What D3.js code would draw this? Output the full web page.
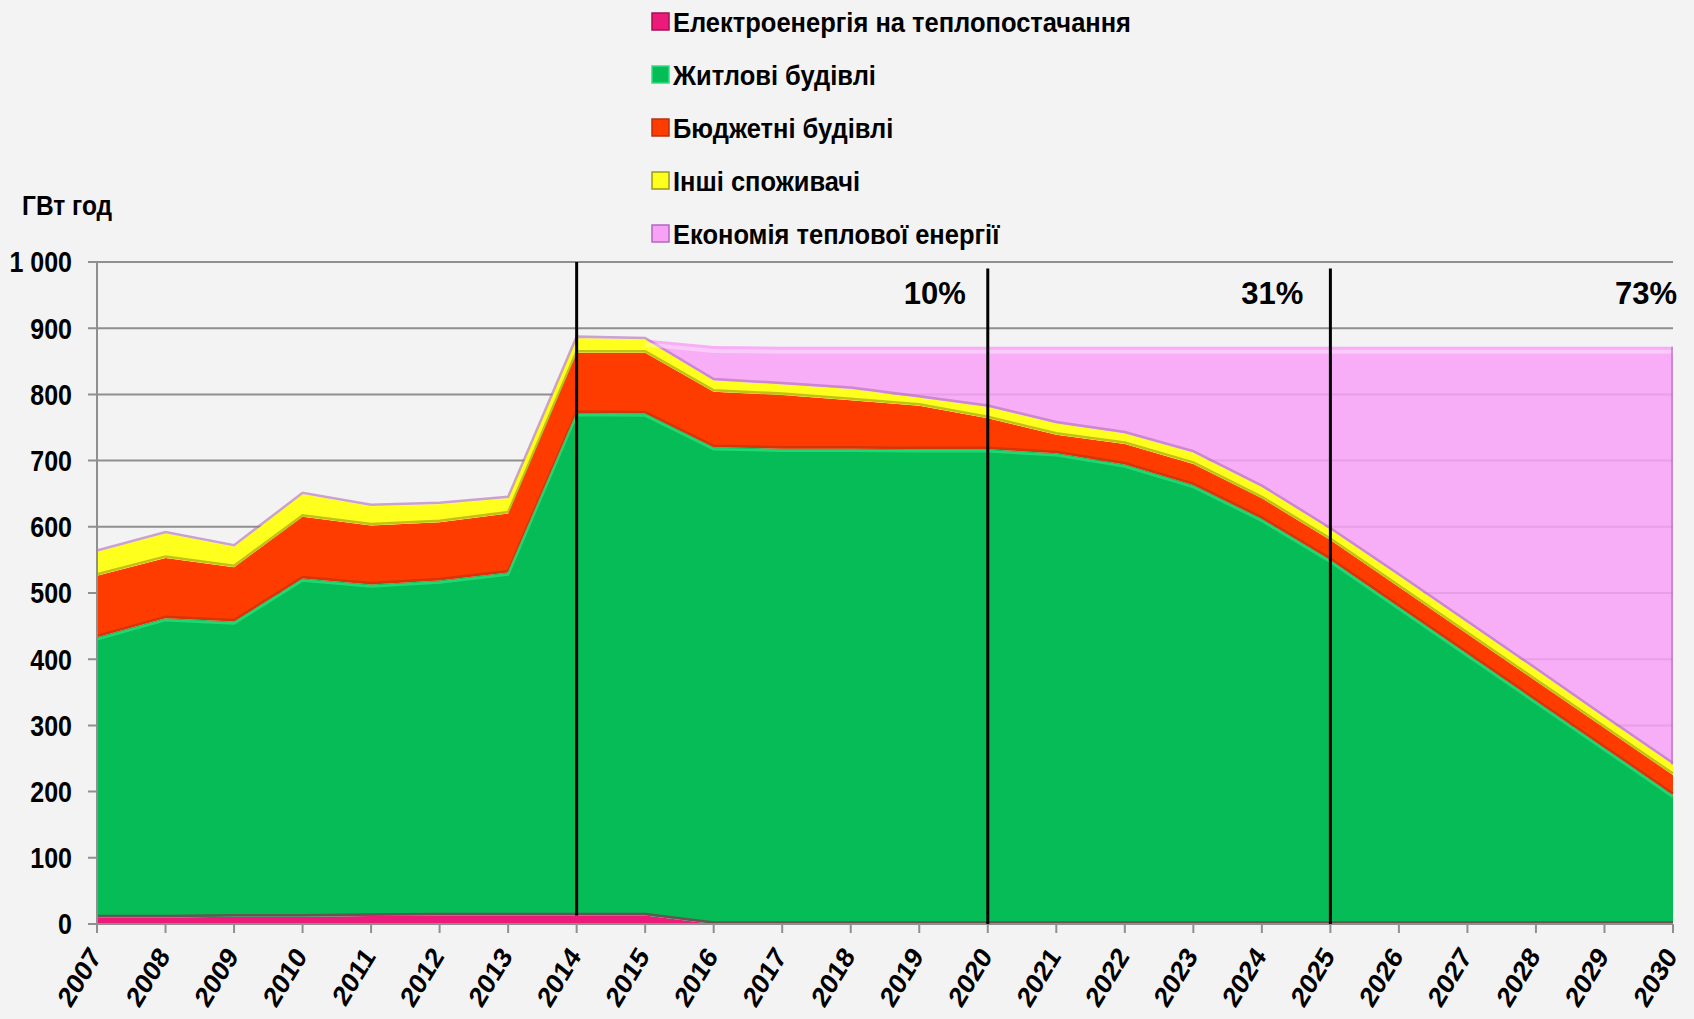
<!DOCTYPE html>
<html>
<head>
<meta charset="utf-8">
<script src="https://cdn.jsdelivr.net/npm/d3@7"></script>
<style>
  html, body { margin: 0; padding: 0; background: #f3f3f3; }
  svg { display: block; font-family: "Liberation Sans", Arial, sans-serif; }
</style>
</head>
<body>
<svg id="chart" width="1694" height="1019"></svg>
<script>
// --- Data (GWh per year) ---
const years = [2007, 2008, 2009, 2010, 2011, 2012, 2013, 2014, 2015, 2016, 2017, 2018,
               2019, 2020, 2021, 2022, 2023, 2024, 2025, 2026, 2027, 2028, 2029, 2030];
const electricity = [10, 10, 11, 11, 12, 13, 13, 13, 13, 0, 0, 0, 0, 0, 0, 0, 0, 0, 0, 0, 0, 0, 0, 0];
const residential = [423, 452, 446, 511, 501, 506, 518, 759, 758, 720, 718, 718,
                     717, 717, 711, 694, 663, 612, 550, 479, 408, 337, 266, 195];
const budget      = [93, 91, 82, 93, 89, 88, 89, 91, 92, 84, 81, 73,
                     66, 47, 28, 31, 32, 31, 30, 30, 30, 30, 30, 30];
const others      = [36, 37, 31, 34, 29, 27, 23, 22, 20, 17, 16, 17,
                     12, 17, 17, 16, 17, 17, 16, 17, 17, 17, 16, 16];
const savings     = [0, 0, 0, 0, 0, 0, 0, 0, 0, 52, 57, 64,
                     77, 91, 116, 131, 160, 212, 276, 346, 417, 488, 560, 631];

const seriesNames = ['Електроенергія на теплопостачання', 'Житлові будівлі', 'Бюджетні будівлі',
                     'Інші споживачі', 'Економія теплової енергії'];
const yTicks = [0, 100, 200, 300, 400, 500, 600, 700, 800, 900, 1000];
const markerYears = [2014, 2020, 2025];
const shareLabels = [{ year: 2020, text: '10%' }, { year: 2025, text: '31%' }, { year: 2030, text: '73%' }];
const unitLabel = 'ГВт год';

// --- Styling ---
const COLORS = ['#ec1a78', '#05bc56', '#ff3c00', '#ffff1e', '#f7a2f7'];
const EDGES  = ['#a80f52', '#2ee27f', '#b83210', '#9a9a10', '#b06ab8'];
const SY = 1.15;   // source picture is vertically stretched; text follows it
const W = 1694, H = 1019;
const M = { left: 97, right: 21, top: 262, bottom: 95 };

const svg = d3.select('#chart');

const x = d3.scaleLinear()
    .domain([years[0], years[years.length - 1]])
    .range([M.left, W - M.right]);
const y = d3.scaleLinear()
    .domain([0, 1000])
    .range([H - M.bottom, M.top]);

// stacked table
const keys = ['el', 'res', 'bud', 'oth', 'sav'];
const table = years.map((yr, i) => ({
    year: yr, el: electricity[i], res: residential[i], bud: budget[i], oth: others[i], sav: savings[i]
}));
const stacked = d3.stack().keys(keys)(table);

// helper for stretched text
function sText(g, tx, ty, str, opts = {}) {
    const sy = opts.sy || SY;
    return g.append('text')
        .attr('transform', `translate(${tx},${ty}) scale(1,${sy})` + (opts.rotate ? ` rotate(${opts.rotate})` : ''))
        .attr('text-anchor', opts.anchor || 'start')
        .attr('dy', opts.dy || '0.35em')
        .attr('font-size', opts.size || 24)
        .attr('font-weight', opts.weight || 'bold')
        .attr('fill', '#000')
        .text(str);
}

// --- Gridlines ---
const grid = svg.append('g');
grid.selectAll('line')
    .data(yTicks.filter(d => d > 0))
    .join('line')
    .attr('x1', M.left - 9).attr('x2', W - M.right)
    .attr('y1', d => y(d)).attr('y2', d => y(d))
    .attr('stroke', '#8f8f8f').attr('stroke-width', 2);

// --- Areas ---
const area = d3.area()
    .x(d => x(d.data.year))
    .y0(d => y(d[0]))
    .y1(d => y(d[1]));

const areasG = svg.append('g');
areasG.selectAll('path.layer')
    .data(stacked)
    .join('path')
    .attr('class', 'layer')
    .attr('d', area)
    .attr('fill', (d, i) => COLORS[i])
    .attr('fill-opacity', (d, i) => i === 4 ? 0.86 : 1);

// bevel-ish edges: dark seam just above each lower boundary, light seam for green top
const edgeLine = off => d3.line()
    .x(d => x(d.data.year))
    .y(d => y(d[0]) - off);
areasG.selectAll('path.edge')
    .data(stacked.slice(1))
    .join('path')
    .attr('class', 'edge')
    .attr('d', edgeLine(1.5))
    .attr('fill', 'none')
    .attr('stroke', (d, i) => EDGES[i + 1 === 1 ? 0 : i + 1])
    .attr('stroke-opacity', 0.6)
    .attr('stroke-width', 2.5);

const topLine = off => d3.line()
    .x(d => x(d.data.year))
    .y(d => y(d[1]) + off);
areasG.append('path')
    .attr('d', topLine(2)(stacked[1]))
    .attr('fill', 'none')
    .attr('stroke', EDGES[1])
    .attr('stroke-opacity', 0.7)
    .attr('stroke-width', 2.5);

// soft highlight under the savings top edge
const savTop = stacked[4].filter(d => d.data.year >= 2015);
areasG.append('path')
    .attr('d', topLine(5)(savTop))
    .attr('fill', 'none')
    .attr('stroke', '#ffffff')
    .attr('stroke-opacity', 0.35)
    .attr('stroke-width', 4);

// darker right rim of the savings block
const last = stacked[4][stacked[4].length - 1];
areasG.append('line')
    .attr('x1', x(last.data.year) - 1).attr('x2', x(last.data.year) - 1)
    .attr('y1', y(last[1])).attr('y2', y(last[0]))
    .attr('stroke', EDGES[4]).attr('stroke-opacity', 0.6).attr('stroke-width', 2);

// --- Axes ---
const axisG = svg.append('g');
axisG.append('line')
    .attr('x1', M.left).attr('x2', M.left)
    .attr('y1', y(1000)).attr('y2', y(0))
    .attr('stroke', '#8f8f8f').attr('stroke-width', 2);
axisG.append('line')
    .attr('x1', M.left - 9).attr('x2', W - M.right)
    .attr('y1', y(0)).attr('y2', y(0))
    .attr('stroke', '#8f8f8f').attr('stroke-width', 2);
axisG.selectAll('line.xt')
    .data(years)
    .join('line')
    .attr('class', 'xt')
    .attr('x1', d => x(d)).attr('x2', d => x(d))
    .attr('y1', y(0)).attr('y2', y(0) + 9)
    .attr('stroke', '#8f8f8f').attr('stroke-width', 2);

const fmt = d => d >= 1000 ? d3.format(',')(d).replace(',', ' ') : String(d);
yTicks.forEach(t => sText(axisG, 72, y(t), fmt(t), { anchor: 'end', dy: '0.36em', size: 25 }));
years.forEach(yr => sText(axisG, x(yr) - 9, y(0) + 21, String(yr),
    { anchor: 'end', rotate: -55, dy: '0.7em', size: 25 }));

sText(svg, 22, 205, unitLabel, { size: 24.5 });

// --- Marker lines ---
svg.append('g').selectAll('line')
    .data(markerYears)
    .join('line')
    .attr('x1', d => x(d)).attr('x2', d => x(d))
    .attr('y1', (d, i) => i === 0 ? y(1000) : y(990))
    .attr('y2', (d, i) => i === 0 ? y(13) : y(0))
    .attr('stroke', '#000').attr('stroke-width', 3);

const pctOffset = [-22, -27, 4];
shareLabels.forEach((s, i) => sText(svg, x(s.year) + pctOffset[i], 293, s.text,
    { anchor: 'end', size: 31, sy: 1.0 }));

// --- Legend (top entry = bottom layer) ---
const legend = svg.append('g');
seriesNames.forEach((name, i) => {
    const cy = 22 + i * 53;
    legend.append('rect')
        .attr('x', 652).attr('y', cy - 9).attr('width', 17).attr('height', 17)
        .attr('fill', COLORS[i])
        .attr('stroke', EDGES[i]).attr('stroke-width', 1.5);
    sText(legend, 673, cy, name, { size: 25.5, sy: 1.12 });
});
</script>
</body>
</html>
